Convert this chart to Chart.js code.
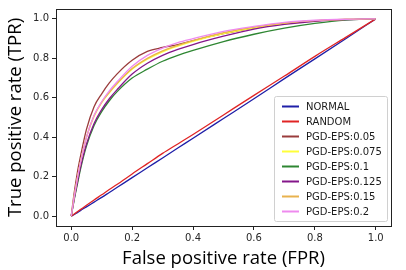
<!DOCTYPE html>
<html lang="en">
<head>
<meta charset="UTF-8">
<title>ROC</title>
<script src="https://cdn.jsdelivr.net/npm/chart.js@4.4.1/dist/chart.umd.min.js"></script>
<style>
  html, body { margin: 0; padding: 0; background: #fff; }
  #wrap { width: 406px; height: 270px; }
</style>
</head>
<body>
<div id="wrap"><canvas id="chart" width="406" height="270"></canvas></div>
<script>
// data
const fpr = [0, 0.01, 0.02, 0.03, 0.05, 0.075, 0.1, 0.125, 0.15, 0.2, 0.25, 0.3, 0.35, 0.4, 0.5, 0.6, 0.7, 0.8, 0.9, 1.0];
const tprNormal = [0, 0.008, 0.018, 0.028, 0.047, 0.071, 0.095, 0.12, 0.145, 0.195, 0.245, 0.295, 0.345, 0.395, 0.495, 0.595, 0.697, 0.797, 0.898, 1.0];
const tprRandom = [0, 0.011, 0.022, 0.033, 0.055, 0.082, 0.108, 0.135, 0.16, 0.214, 0.266, 0.318, 0.366, 0.414, 0.513, 0.612, 0.71, 0.81, 0.905, 1.0];
const tprEps005 = [0, 0.12, 0.22, 0.30, 0.44, 0.555, 0.62, 0.675, 0.72, 0.79, 0.835, 0.855, 0.87, 0.89, 0.925, 0.955, 0.978, 0.99, 0.997, 1.0];
const tprEps0075 = [0, 0.10, 0.19, 0.27, 0.40, 0.505, 0.575, 0.625, 0.67, 0.745, 0.795, 0.833, 0.862, 0.886, 0.925, 0.955, 0.976, 0.99, 0.997, 1.0];
const tprEps01 = [0, 0.085, 0.16, 0.235, 0.355, 0.46, 0.53, 0.585, 0.63, 0.7, 0.745, 0.785, 0.815, 0.84, 0.885, 0.922, 0.953, 0.977, 0.994, 1.0];
const tprEps0125 = [0, 0.09, 0.17, 0.245, 0.365, 0.47, 0.54, 0.595, 0.64, 0.72, 0.775, 0.815, 0.845, 0.87, 0.912, 0.948, 0.972, 0.988, 0.996, 1.0];
const tprEps015 = [0, 0.10, 0.19, 0.27, 0.40, 0.51, 0.578, 0.628, 0.672, 0.748, 0.80, 0.838, 0.866, 0.89, 0.93, 0.958, 0.978, 0.991, 0.997, 1.0];
const tprEps02 = [0, 0.10, 0.19, 0.27, 0.40, 0.51, 0.58, 0.635, 0.68, 0.76, 0.815, 0.852, 0.88, 0.90, 0.937, 0.962, 0.982, 0.993, 0.998, 1.0];

const seriesLabels = ['NORMAL', 'RANDOM', 'PGD-EPS:0.05', 'PGD-EPS:0.075', 'PGD-EPS:0.1', 'PGD-EPS:0.125', 'PGD-EPS:0.15', 'PGD-EPS:0.2'];
const seriesValues = [tprNormal, tprRandom, tprEps005, tprEps0075, tprEps01, tprEps0125, tprEps015, tprEps02];
const seriesColors = ['#1f1fa8', '#e02424', '#9a3c3c', '#ffff3a', '#2e8632', '#84168a', '#e8b24e', '#ee8aee'];
const tickVals = [0, 0.2, 0.4, 0.6, 0.8, 1.0];

const datasets = seriesLabels.map((lab, i) => ({
    label: lab,
    data: fpr.map((x, j) => ({x: x, y: seriesValues[i][j]})),
    borderColor: seriesColors[i],
    borderWidth: 1.3,
    pointRadius: 0,
    fill: false,
    cubicInterpolationMode: 'monotone',
    order: seriesLabels.length - i
}));

// frame + legend box like matplotlib
const framePlugin = {
    id: 'frame',
    afterDraw(chart) {
        const ctx = chart.ctx;
        const a = chart.chartArea;
        ctx.save();
        ctx.strokeStyle = '#222';
        ctx.lineWidth = 1;
        ctx.strokeRect(Math.round(a.left) + 0.5, Math.round(a.top) + 0.5, Math.round(a.right - a.left), Math.round(a.bottom - a.top));

        // legend
        const bx = 274, by = 96, bw = 113, bh = 125;
        ctx.fillStyle = 'rgba(255,255,255,0.85)';
        ctx.strokeStyle = '#d0d0d0';
        ctx.beginPath();
        ctx.roundRect(bx + 0.5, by + 0.5, bw, bh, 2);
        ctx.fill();
        ctx.stroke();
        ctx.font = '10px "DejaVu Sans"';
        ctx.textBaseline = 'middle';
        ctx.fillStyle = '#1a1a1a';
        seriesLabels.forEach((lab, i) => {
            const yy = 106.5 + i * 15;
            ctx.strokeStyle = seriesColors[i];
            ctx.lineWidth = 2;
            ctx.beginPath();
            ctx.moveTo(282, yy);
            ctx.lineTo(299, yy);
            ctx.stroke();
            ctx.fillText(lab, 306, yy + 0.5);
        });
        ctx.restore();
    }
};

const ctx = document.getElementById('chart').getContext('2d');
new Chart(ctx, {
    type: 'line',
    data: { datasets: datasets },
    options: {
        responsive: false,
        animation: false,
        layout: { padding: { left: 0, top: 8, right: 15, bottom: 0 } },
        plugins: { legend: { display: false }, tooltip: { enabled: false } },
        scales: {
            x: {
                type: 'linear',
                min: -0.05,
                max: 1.05,
                afterBuildTicks: s => { s.ticks = tickVals.map(v => ({value: v})); },
                afterFit: s => { s.height = 44; },
                grid: { drawOnChartArea: false, drawTicks: true, tickLength: 4, color: '#222' },
                border: { display: false },
                ticks: { color: '#262626', font: { family: 'DejaVu Sans', size: 10 }, padding: 2, maxRotation: 0, callback: v => v.toFixed(1) },
                title: { display: true, text: 'False positive rate (FPR)', color: '#000', font: { family: 'Open Sans', size: 18.5 }, padding: { top: 0, bottom: 0 } }
            },
            y: {
                type: 'linear',
                min: -0.05,
                max: 1.05,
                afterBuildTicks: s => { s.ticks = tickVals.map(v => ({value: v})); },
                afterFit: s => { s.width = 56; },
                grid: { drawOnChartArea: false, drawTicks: true, tickLength: 4, color: '#222' },
                border: { display: false },
                ticks: { color: '#262626', font: { family: 'DejaVu Sans', size: 10 }, padding: 3, callback: v => v.toFixed(1) },
                title: { display: true, text: 'True positive rate (TPR)', color: '#000', font: { family: 'Open Sans', size: 18.5 }, padding: { top: 5, bottom: 0 } }
            }
        }
    },
    plugins: [framePlugin]
});
</script>
</body>
</html>
